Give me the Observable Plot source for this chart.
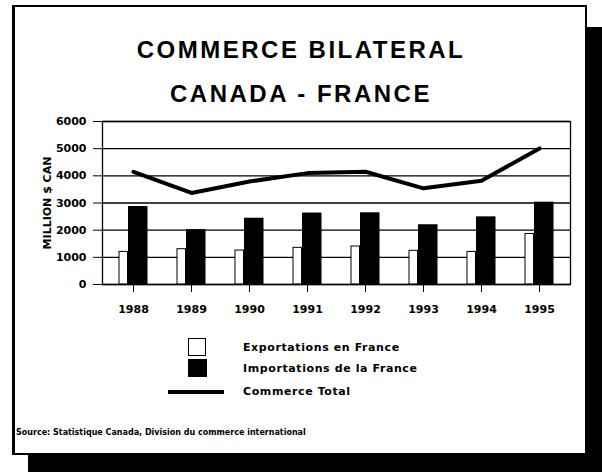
<!DOCTYPE html>
<html>
<head>
<meta charset="utf-8">
<script src="https://cdn.jsdelivr.net/npm/d3@7"></script>
<script src="https://cdn.jsdelivr.net/npm/@observablehq/plot@0.6"></script>
<style>
  html, body { margin: 0; padding: 0; background: white; }
  body { width: 602px; height: 472px; position: relative; overflow: hidden; font-family: "DejaVu Sans", sans-serif; }
  .abs { position: absolute; }
  .shadow { left: 28px; top: 27px; width: 574px; height: 445px; background: black; }
  .card { left: 12px; top: 5px; width: 570px; height: 446px; background: white;
          border-left: 3px solid black; border-top: 2px solid black; border-right: 2px solid black; border-bottom: 2px solid black; }
  .title { left: 0; width: 602px; text-align: center; font-family: "Liberation Sans", Arial, sans-serif;
           font-weight: bold; font-size: 24px; line-height: 24px; letter-spacing: 2.5px; color: black; }
  .leg { font-weight: bold; font-size: 11px; letter-spacing: 0.6px; line-height: 14px; color: black; white-space: nowrap; }
  .src { font-weight: bold; font-size: 8px; line-height: 10px; color: black; white-space: nowrap; }
</style>
</head>
<body>
<div class="abs shadow"></div>
<div class="abs card"></div>
<div class="abs title" style="top:38px;">COMMERCE BILATERAL</div>
<div class="abs title" style="top:82px;">CANADA - FRANCE</div>
<div id="chart" class="abs" style="left:16px; top:110px;"></div>

<div class="abs" style="left:188px; top:338px; width:16px; height:16px; border:1.5px solid black; background:white;"></div>
<div class="abs" style="left:188px; top:359px; width:19px; height:18px; background:black;"></div>
<div class="abs" style="left:168px; top:390px; width:56px; height:4px; background:black;"></div>
<div class="abs leg" id="l1" style="left:243px; top:341px;"></div>
<div class="abs leg" id="l2" style="left:243px; top:362px;"></div>
<div class="abs leg" id="l3" style="left:243px; top:385px;"></div>
<div class="abs src" id="src" style="left:16px; top:428px;"></div>

<script>
const years = ["1988", "1989", "1990", "1991", "1992", "1993", "1994", "1995"];
const exportations = [1200, 1300, 1250, 1350, 1400, 1240, 1200, 1860];
const importations = [2870, 2020, 2440, 2630, 2640, 2200, 2490, 3030];
const commerceTotal = [4150, 3370, 3790, 4100, 4150, 3540, 3820, 5010];
const yTicks = [0, 1000, 2000, 3000, 4000, 5000, 6000];
const seriesNames = ["Exportations en France", "Importations de la France", "Commerce Total"];
const yLabel = "MILLION $ CAN";
const source = "Source: Statistique Canada, Division du commerce international";

const data = years.map((y, i) => ({year: y, exp: exportations[i], imp: importations[i], tot: commerceTotal[i]}));

const chart = Plot.plot({
  width: 566,
  height: 220,
  marginLeft: 86,
  marginRight: 12,
  marginTop: 11,
  marginBottom: 46,
  style: {background: "transparent", fontFamily: "DejaVu Sans", fontWeight: "bold", fontSize: "11px", color: "black", overflow: "visible"},
  x: {domain: years, padding: 0, label: null},
  y: {domain: [0, 6000], label: null},
  marks: [
    Plot.gridY(yTicks, {stroke: "black", strokeOpacity: 1, strokeWidth: 1.3}),
    Plot.barY(data, {x: "year", y: "exp", fill: "white", stroke: "black", strokeWidth: 1, insetLeft: 15, insetRight: 34.5}),
    Plot.barY(data, {x: "year", y: "imp", fill: "black", insetLeft: 24, insetRight: 14.5}),
    Plot.line(data, {x: "year", y: "tot", stroke: "black", strokeWidth: 4}),
    Plot.frame({stroke: "black", strokeWidth: 1.3}),
    Plot.axisY(yTicks, {tickSize: 9, tickPadding: 7, label: null, tickFormat: d => String(d), stroke: "black", strokeOpacity: 1}),
    Plot.axisX({tickSize: 8, tickPadding: 13, label: null, stroke: "black", strokeOpacity: 1}),
    Plot.text([yLabel], {frameAnchor: "left", dx: -55, rotate: -90, textAnchor: "middle", text: d => d, fontSize: 11, fontWeight: "bold", fill: "black"})
  ]
});
document.getElementById("chart").appendChild(chart);
document.getElementById("l1").textContent = seriesNames[0];
document.getElementById("l2").textContent = seriesNames[1];
document.getElementById("l3").textContent = seriesNames[2];
document.getElementById("src").textContent = source;
</script>
</body>
</html>
